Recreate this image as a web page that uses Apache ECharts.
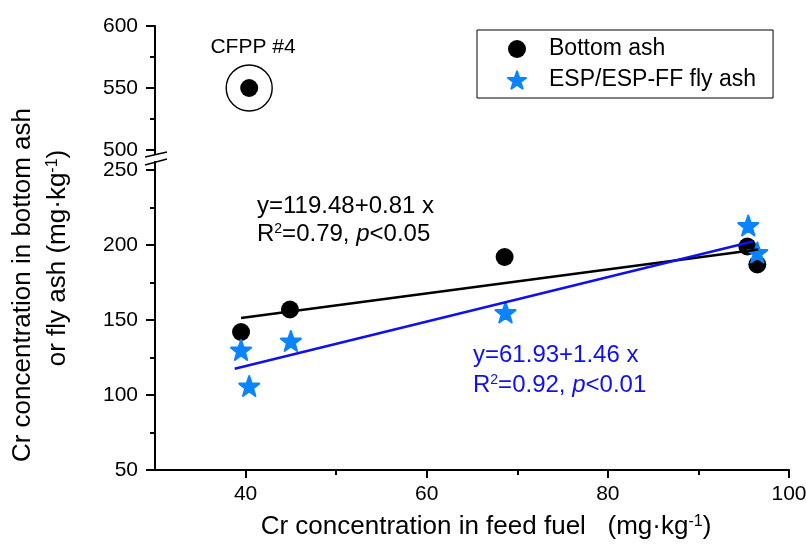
<!DOCTYPE html>
<html>
<head>
<meta charset="utf-8">
<script src="https://cdn.jsdelivr.net/npm/echarts@6/dist/echarts.min.js"></script>
<style>
  html, body { margin: 0; padding: 0; background: #fff; }
  #main { width: 806px; height: 545px; }
</style>
</head>
<body>
<div id="main"></div>
<script>
// feed fuel Cr (x) vs ash Cr (y)
var bottomAsh = [[39.5, 142], [44.9, 157], [68.6, 192], [95.4, 199], [96.5, 187]];
var bottomOutlier = [[40.4, 550]];
var flyAsh = [[39.5, 130], [40.4, 106], [45.0, 136], [68.7, 155], [95.5, 213], [96.5, 195]];
// fit line ends
var fitBottom = [[39.5, 151.3], [96.6, 197.0]];
var fitFly = [[38.8, 117.5], [96.0, 202.3]];

var xMajor = [40, 60, 80, 100];
var xMinor = [50, 70, 90];

var FONT = '"Liberation Sans", Arial, sans-serif';
var STAR = 'path://M50,2 L62,36 L98,37 L69,59 L80,94 L50,73 L20,94 L31,59 L2,37 L38,36 Z';
var BLUE = '#1010ee';
var STARBLUE = '#0a84ff';

var chart = echarts.init(document.getElementById('main'));

function supText(fill, size) {
    return {
        n: { fontSize: size, fontFamily: FONT, fill: fill },
        s: { fontSize: Math.round(size * 0.6), fontFamily: FONT, fill: fill, verticalAlign: 'top', padding: [0, 0, Math.round(size * 0.4), 0] },
        i: { fontSize: size, fontFamily: FONT, fontStyle: 'italic', fill: fill }
    };
}

var option = {
    backgroundColor: '#fff',
    textStyle: { fontFamily: FONT },
    animation: false,
    grid: [
        { left: 155, top: 26, width: 634, height: 124, outerBoundsMode: 'none' },
        { left: 155, top: 170, width: 634, height: 300, outerBoundsMode: 'none' },
        { left: 155, top: 170, width: 634, height: 300, outerBoundsMode: 'none' }   // only for the minor x ticks
    ],
    legend: {
        orient: 'vertical',
        left: 477,
        top: 30,
        borderColor: '#000',
        borderWidth: 1,
        padding: [7, 17, 6, 30],
        itemGap: 7,
        itemWidth: 18,
        itemHeight: 18,
        textStyle: { fontSize: 23, lineHeight: 24, color: '#000', fontFamily: FONT, padding: [0, 0, 0, 18] },
        data: [
            { name: 'Bottom ash', icon: 'circle' },
            { name: 'ESP/ESP-FF fly ash', icon: STAR }
        ]
    },
    xAxis: [
        {
            gridIndex: 1, type: 'value', min: 30, max: 100, position: 'bottom',
            axisLine: { lineStyle: { color: '#000', width: 2 } },
            axisTick: { customValues: xMajor, length: 8, lineStyle: { color: '#000', width: 2 } },
            axisLabel: { customValues: xMajor, fontSize: 21, color: '#000', margin: 14, fontFamily: FONT },
            splitLine: { show: false }
        },
        {
            gridIndex: 2, type: 'value', min: 30, max: 100, position: 'bottom',
            axisLine: { show: false },
            axisTick: { customValues: xMinor, length: 5, lineStyle: { color: '#000', width: 2 } },
            axisLabel: { show: false },
            splitLine: { show: false }
        },
        {
            gridIndex: 0, type: 'value', min: 30, max: 100, show: false
        }
    ],
    yAxis: [
        {
            gridIndex: 0, type: 'value', min: 500, max: 600, interval: 50,
            axisLine: { show: true, lineStyle: { color: '#000', width: 2 } },
            axisTick: { length: 9, lineStyle: { color: '#000', width: 2 } },
            minorTick: { show: true, splitNumber: 2, length: 5, lineStyle: { color: '#000', width: 2 } },
            axisLabel: { fontSize: 21, color: '#000', margin: 17, fontFamily: FONT },
            splitLine: { show: false }
        },
        {
            gridIndex: 1, type: 'value', min: 50, max: 250, interval: 50,
            axisLine: { show: true, lineStyle: { color: '#000', width: 2 } },
            axisTick: { length: 9, lineStyle: { color: '#000', width: 2 } },
            minorTick: { show: true, splitNumber: 2, length: 5, lineStyle: { color: '#000', width: 2 } },
            axisLabel: { fontSize: 21, color: '#000', margin: 17, fontFamily: FONT },
            splitLine: { show: false }
        },
        {
            gridIndex: 2, type: 'value', min: 50, max: 250, show: false
        }
    ],
    series: [
        {
            name: 'Bottom ash', type: 'scatter', xAxisIndex: 0, yAxisIndex: 1,
            symbol: 'circle', symbolSize: 18, z: 2,
            itemStyle: { color: '#000', opacity: 1 },
            data: bottomAsh
        },
        {
            name: 'Bottom ash', type: 'scatter', xAxisIndex: 2, yAxisIndex: 0,
            symbol: 'circle', symbolSize: 18, z: 2,
            itemStyle: { color: '#000', opacity: 1 },
            data: bottomOutlier
        },
        {
            name: 'outlier ring', type: 'scatter', xAxisIndex: 2, yAxisIndex: 0,
            symbol: 'circle', symbolSize: 46, z: 1,
            itemStyle: { color: 'rgba(0,0,0,0)', borderColor: '#000', borderWidth: 1.4, opacity: 1 },
            data: bottomOutlier
        },
        {
            name: 'ESP/ESP-FF fly ash', type: 'scatter', xAxisIndex: 0, yAxisIndex: 1,
            symbol: STAR, symbolSize: 20, z: 3,
            itemStyle: { color: STARBLUE, borderColor: STARBLUE, borderWidth: 2, borderJoin: 'round', opacity: 1 },
            data: flyAsh
        },
        {
            name: 'fit bottom', type: 'line', xAxisIndex: 0, yAxisIndex: 1,
            showSymbol: false, symbol: 'none', z: 4,
            lineStyle: { color: '#000', width: 2.5 },
            data: fitBottom
        },
        {
            name: 'fit fly', type: 'line', xAxisIndex: 0, yAxisIndex: 1,
            showSymbol: false, symbol: 'none', z: 4,
            lineStyle: { color: BLUE, width: 2.5 },
            data: fitFly
        }
    ],
    graphic: [
        // axis break
        { type: 'line', shape: { x1: 155, y1: 149, x2: 155, y2: 155 }, style: { stroke: '#000', lineWidth: 2 } },
        { type: 'line', shape: { x1: 155, y1: 161, x2: 155, y2: 171 }, style: { stroke: '#000', lineWidth: 2 } },
        { type: 'line', shape: { x1: 145, y1: 157, x2: 167, y2: 152 }, style: { stroke: '#000', lineWidth: 1.5 } },
        { type: 'line', shape: { x1: 145, y1: 165, x2: 167, y2: 159 }, style: { stroke: '#000', lineWidth: 1.5 } },
        {
            type: 'text', x: 253, y: 47, style: {
                text: 'CFPP #4', x: 0, y: 0, align: 'center', verticalAlign: 'middle',
                fontSize: 21, fill: '#000', fontFamily: FONT
            }
        },
        {
            type: 'text', x: 257, y: 206.5, style: {
                text: 'y=119.48+0.81 x', x: 0, y: 0, verticalAlign: 'middle',
                fontSize: 24, fill: '#000', fontFamily: FONT
            }
        },
        {
            type: 'text', x: 257, y: 234.5, style: {
                text: '{n|R}{s|2}{n|=0.79, }{i|p}{n|<0.05}', x: 0, y: 0, verticalAlign: 'middle',
                rich: supText('#000', 24)
            }
        },
        {
            type: 'text', x: 473, y: 355.5, style: {
                text: 'y=61.93+1.46 x', x: 0, y: 0, verticalAlign: 'middle',
                fontSize: 24, fill: BLUE, fontFamily: FONT
            }
        },
        {
            type: 'text', x: 473, y: 385.5, style: {
                text: '{n|R}{s|2}{n|=0.92, }{i|p}{n|<0.01}', x: 0, y: 0, verticalAlign: 'middle',
                rich: supText(BLUE, 24)
            }
        },
        {
            type: 'text', x: 486, y: 527, style: {
                text: '{n|Cr concentration in feed fuel   (mg·kg}{s|-1}{n|)}',
                x: 0, y: 0, align: 'center', verticalAlign: 'middle',
                rich: supText('#000', 26)
            }
        },
        {
            type: 'text', rotation: Math.PI / 2, x: 23, y: 285, style: {
                text: 'Cr concentration in bottom ash',
                x: 0, y: 0, align: 'center', verticalAlign: 'middle',
                fontSize: 26, fontFamily: FONT, fill: '#000'
            }
        },
        {
            type: 'text', rotation: Math.PI / 2, x: 58, y: 258, style: {
                text: '{n|or fly ash (mg·kg}{s|-1}{n|)}',
                x: 0, y: 0, align: 'center', verticalAlign: 'middle',
                rich: supText('#000', 26)
            }
        }
    ]
};

chart.setOption(option);
</script>
</body>
</html>
